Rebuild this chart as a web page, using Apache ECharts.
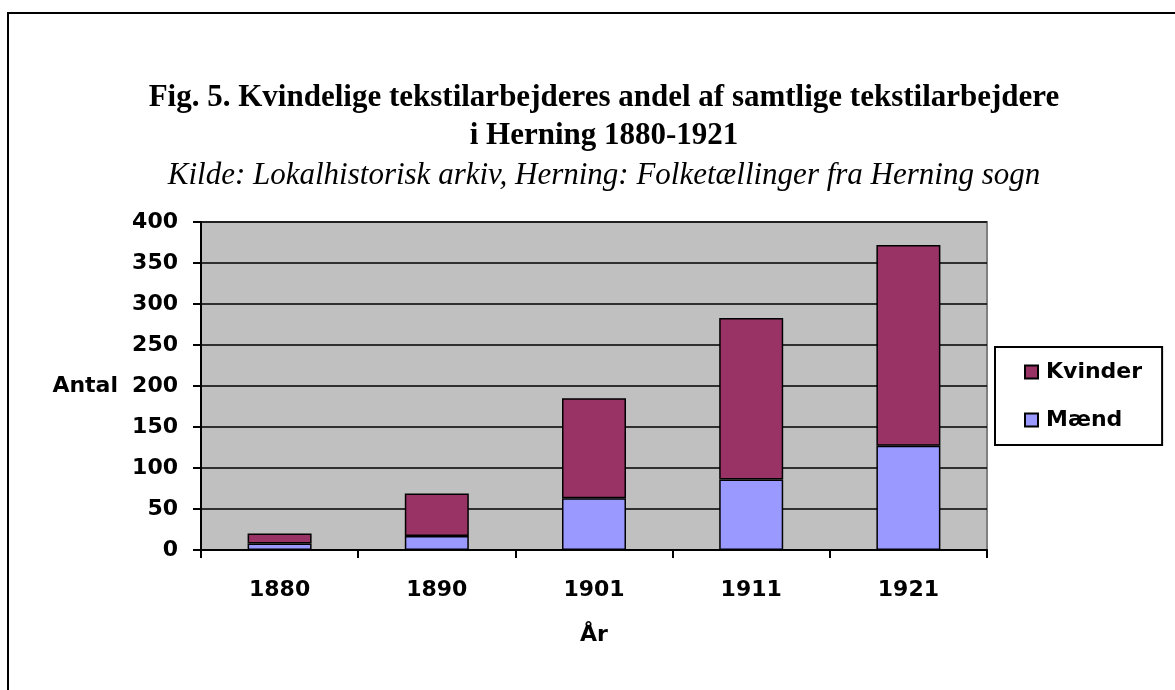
<!DOCTYPE html>
<html>
<head>
<meta charset="utf-8">
<script src="https://cdn.jsdelivr.net/npm/echarts@6/dist/echarts.min.js"></script>
<style>
  html, body { margin: 0; padding: 0; background: #fff; }
  #chart { width: 1175px; height: 690px; }
</style>
</head>
<body>
<div id="chart"></div>
<script>
// år og antal tekstilarbejdere
const years = ['1880', '1890', '1901', '1911', '1921']
const maend = [8, 17, 63, 86, 127]
const kvinder = [12, 52, 122, 197, 245]

const chart = echarts.init(document.getElementById('chart'))

const axisFont = { fontFamily: 'DejaVu Sans', fontWeight: 'bold', fontSize: 22, color: '#000' }
const serif = 'Liberation Serif, Times New Roman'

chart.setOption({
  animation: false,
  backgroundColor: '#fff',
  title: [
    {
      text: 'Fig. 5. Kvindelige tekstilarbejderes andel af samtlige tekstilarbejdere',
      left: 599,
      top: 76,
      textAlign: 'center',
      textStyle: { fontFamily: serif, fontWeight: 'bold', fontSize: 31, lineHeight: 34, color: '#000' },
    },
    {
      text: 'i Herning 1880-1921',
      left: 599,
      top: 114,
      textAlign: 'center',
      textStyle: { fontFamily: serif, fontWeight: 'bold', fontSize: 31, lineHeight: 34, color: '#000' },
    },
    {
      text: 'Kilde: Lokalhistorisk arkiv, Herning: Folketællinger fra Herning sogn',
      left: 599,
      top: 154,
      textAlign: 'center',
      textStyle: { fontFamily: serif, fontStyle: 'italic', fontWeight: 'normal', fontSize: 31, lineHeight: 34, color: '#000' },
    },
  ],
  legend: {
    data: ['Kvinder', 'Mænd'],
    orient: 'vertical',
    left: 995,
    top: 347,
    padding: [14, 20, 14, 29],
    itemWidth: 13,
    itemHeight: 13,
    itemGap: 26,
    icon: 'rect',
    borderColor: '#000',
    borderWidth: 2,
    backgroundColor: '#fff',
    textStyle: { ...axisFont, padding: [0, 0, 0, 3] },
  },
  grid: { left: 201, right: 188, top: 222, bottom: 140, show: true, backgroundColor: '#C0C0C0', borderColor: '#808080', borderWidth: 2 },
  xAxis: {
    type: 'category',
    data: years,
    name: 'År',
    nameLocation: 'middle',
    nameGap: 74,
    nameTextStyle: axisFont,
    axisLine: { lineStyle: { color: '#000', width: 2 } },
    axisTick: { show: true, length: 8, lineStyle: { color: '#000', width: 2 } },
    axisLabel: { ...axisFont, margin: 29 },
  },
  yAxis: {
    type: 'value',
    min: 0,
    max: 400,
    interval: 50,
    name: 'Antal',
    nameLocation: 'middle',
    nameRotate: 0,
    nameGap: 83,
    nameTextStyle: axisFont,
    axisLine: { show: true, lineStyle: { color: '#000', width: 2 } },
    axisTick: { show: true, length: 8, lineStyle: { color: '#000', width: 2 } },
    axisLabel: { ...axisFont, margin: 23 },
    splitLine: { lineStyle: { color: '#000', width: 1.5 } },
  },
  series: [
    {
      name: 'Mænd',
      type: 'bar',
      stack: 'total',
      data: maend,
      barWidth: 64,
      itemStyle: { color: '#9999FF', borderColor: '#000', borderWidth: 1.5 },
    },
    {
      name: 'Kvinder',
      type: 'bar',
      stack: 'total',
      data: kvinder,
      barWidth: 64,
      itemStyle: { color: '#993366', borderColor: '#000', borderWidth: 1.5 },
    },
  ],
  graphic: [
    {
      type: 'rect',
      shape: { x: 8, y: 13, width: 1300, height: 800 },
      style: { fill: 'none', stroke: '#000', lineWidth: 2 },
      silent: true,
    },
  ],
})
</script>
</body>
</html>
